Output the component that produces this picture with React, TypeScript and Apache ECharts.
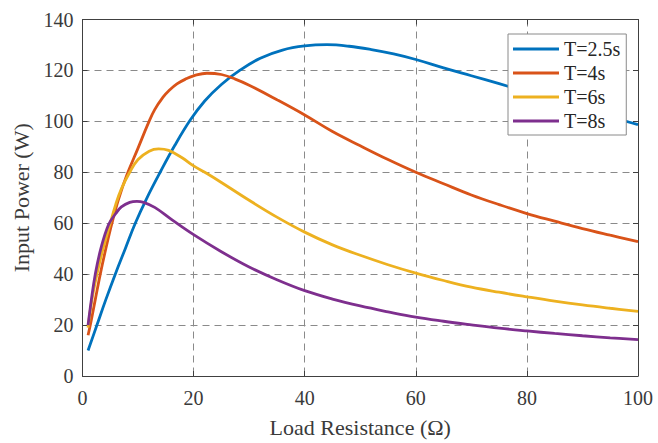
import React, { useEffect, useRef } from "react";
import * as echarts from "echarts";

// Load resistance (Ω) sample points and input power (W) for each period T
const r25 = [1, 2.6, 4.2, 5.9, 7.7, 9.5, 11.5, 14.1, 16.6, 19.4, 22, 25, 28.3, 32, 36, 40, 44, 48, 52, 56, 60, 65, 70, 75, 80, 85, 90, 95, 100];
const p25 = [10, 20, 30, 40, 50, 60, 69.5, 80.5, 90.5, 100.5, 108, 114.5, 120, 124.8, 128, 129.6, 130.1, 129.5, 128.2, 126.5, 124.3, 121, 117.9, 114.8, 111.6, 108.4, 105.2, 101.8, 98.7];

const r4 = [1, 1.5, 2.3, 3.2, 4.2, 5.3, 6.5, 8, 10, 11.85, 13, 14.5, 15.5, 17, 18.75, 20, 22.4, 25, 27.5, 30, 35, 40, 45, 50, 55, 60, 65, 70, 75, 80, 85, 90, 95, 100];
const p4 = [16, 21, 30, 40, 50, 60, 69.5, 79, 89.5, 99.3, 104.6, 109.5, 111.9, 114.7, 116.8, 117.9, 118.9, 118.4, 116.6, 114.2, 108.5, 102.5, 96, 90.4, 85, 80, 75.5, 71.1, 67.3, 63.8, 60.8, 57.9, 55.3, 52.8];

const r6 = [1, 1.7, 2.6, 3.7, 5, 6, 7, 8.5, 10, 12, 13.7, 15.5, 18, 20, 22.4, 25, 30, 35, 40, 45, 50, 55, 60, 65, 70, 75, 80, 85, 90, 95, 100];
const p6 = [19, 30, 40, 50, 60, 67.5, 73.5, 80, 85, 88.3, 89.2, 88.6, 85.6, 82.5, 79.5, 76, 69, 62.4, 56.5, 51.5, 47.4, 43.7, 40.4, 37.5, 34.9, 32.9, 31.1, 29.4, 27.9, 26.6, 25.4];

const r8 = [1, 1.6, 2.3, 3.3, 4.7, 6, 7, 8.5, 9.8, 11, 13, 16, 20, 25, 30, 35, 40, 45, 50, 55, 60, 65, 70, 75, 80, 85, 90, 95, 100];
const p8 = [20, 30, 40, 50, 59.5, 63.8, 66.4, 68.2, 68.6, 68.2, 66.2, 61.5, 55.5, 48.8, 42.8, 37.8, 33.5, 30.2, 27.5, 25.2, 23.1, 21.5, 20.1, 18.8, 17.7, 16.7, 15.8, 15, 14.3];

const seriesNames = ["T=2.5s", "T=4s", "T=6s", "T=8s"];
const seriesColors = ["#0072BD", "#D95319", "#EDB120", "#7E2F8E"];
const seriesX = [r25, r4, r6, r8];
const seriesY = [p25, p4, p6, p8];

const FONT = "Liberation Serif";
const TEXT = "#3a3a3a";
const AXIS = "#404040";
const GRID = "#8a8a8a";

export default function App() {
  const ref = useRef<HTMLDivElement>(null);

  useEffect(() => {
    if (!ref.current) return;
    const chart = echarts.init(ref.current, undefined, { renderer: "svg" });

    const pairs = (xs: number[], ys: number[]) => xs.map((x, i) => [x, ys[i]]);

    const baseX = { type: "value" as const, min: 0, max: 100, interval: 20 };
    const baseY = { type: "value" as const, min: 0, max: 140, interval: 20 };

    chart.setOption({
      animation: false,
      backgroundColor: "#ffffff",
      textStyle: { fontFamily: FONT },
      grid: { left: 82.5, top: 19.5, width: 555.5, height: 363.8, containLabel: false },
      legend: {
        orient: "vertical",
        left: 508,
        top: 34,
        padding: [5, 6, 4, 5],
        itemGap: 4,
        itemWidth: 46,
        itemHeight: 3,
        icon: "rect",
        backgroundColor: "#ffffff",
        borderColor: "#8a8a8a",
        borderWidth: 1,
        textStyle: { fontFamily: FONT, fontSize: 20, lineHeight: 20, color: "#262626" },
        data: seriesNames,
      },
      xAxis: [
        {
          ...baseX,
          position: "bottom",
          name: "Load Resistance (Ω)",
          nameLocation: "middle",
          nameGap: 40,
          nameTextStyle: { fontFamily: FONT, fontSize: 22, color: TEXT },
          axisLine: { show: true, onZero: false, lineStyle: { color: AXIS, width: 1 } },
          axisTick: { show: true, inside: true, length: 5, lineStyle: { color: AXIS } },
          axisLabel: { fontFamily: FONT, fontSize: 20, color: TEXT, margin: 12 },
          splitLine: { show: true, lineStyle: { color: GRID, type: [7, 5], width: 1 } },
        },
        {
          ...baseX,
          position: "top",
          axisLine: { show: true, onZero: false, lineStyle: { color: AXIS, width: 1 } },
          axisTick: { show: true, inside: true, length: 5, lineStyle: { color: AXIS } },
          axisLabel: { show: false },
          splitLine: { show: false },
        },
      ],
      yAxis: [
        {
          ...baseY,
          position: "left",
          name: "Input Power (W)",
          nameLocation: "middle",
          nameGap: 45,
          nameTextStyle: { fontFamily: FONT, fontSize: 22, color: TEXT },
          axisLine: { show: true, onZero: false, lineStyle: { color: AXIS, width: 1 } },
          axisTick: { show: true, inside: true, length: 5, lineStyle: { color: AXIS } },
          axisLabel: { fontFamily: FONT, fontSize: 20, color: TEXT, margin: 9 },
          splitLine: { show: true, lineStyle: { color: GRID, type: [7, 5], width: 1 } },
        },
        {
          ...baseY,
          position: "right",
          axisLine: { show: true, onZero: false, lineStyle: { color: AXIS, width: 1 } },
          axisTick: { show: true, inside: true, length: 5, lineStyle: { color: AXIS } },
          axisLabel: { show: false },
          splitLine: { show: false },
        },
      ],
      series: seriesNames.map((name, i) => ({
        name,
        type: "line",
        xAxisIndex: 0,
        yAxisIndex: 0,
        data: pairs(seriesX[i], seriesY[i]),
        smooth: 0.4,
        showSymbol: false,
        symbol: "none",
        lineStyle: { color: seriesColors[i], width: 2.8 },
        itemStyle: { color: seriesColors[i] },
        z: 3,
      })),
    });

    return () => chart.dispose();
  }, []);

  return (
    <div
      ref={ref}
      style={{ position: "absolute", left: 0, top: 0, width: 658, height: 443 }}
    />
  );
}
